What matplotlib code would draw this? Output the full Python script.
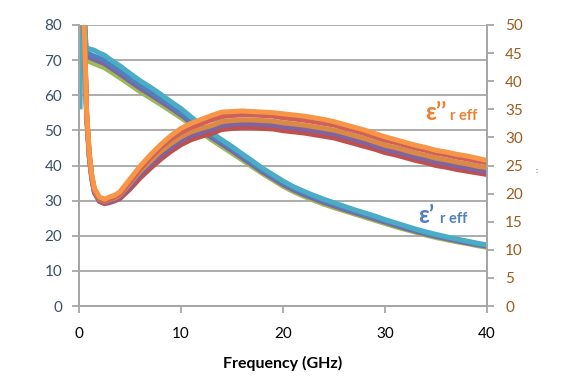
import numpy as np
import matplotlib
matplotlib.use("Agg")
import matplotlib.pyplot as plt

plt.rcParams['font.family'] = ['Lato', 'DejaVu Sans']

# eps' (left axis)
fe = [0.1, 0.3, 0.7, 1, 1.5, 2, 2.5, 3] + list(range(4, 41))
nan = np.nan
eps1_aqua = [56, 95, 73.6, 73.2, 72.8, 72.0, 71.4, 70.3,
             68.4, 66.2, 64.1, 62.3, 60.3, 58.2, 56.2, 53.8, 51.5, 49.3, 47.3, 45.4,
             43.3, 41.3, 39.2, 37.4, 35.6, 34.0, 32.7, 31.5, 30.4, 29.4, 28.4, 27.4,
             26.5, 25.6, 24.6, 23.7, 22.8, 21.9, 21.1, 20.4, 19.7, 19.1, 18.5, 17.9, 17.4]
eps1_blue = [nan, 95, 72.0, 71.8, 71.1, 70.6, 69.9, 68.9,
             67.0, 64.9, 62.9, 61.0, 59.1, 57.2, 55.1, 52.9, 50.8, 48.6, 46.7, 44.8,
             42.8, 40.7, 38.7, 36.9, 35.1, 33.6, 32.3, 31.1, 30.0, 29.0, 28.0, 27.0,
             26.1, 25.2, 24.3, 23.4, 22.5, 21.6, 20.8, 20.1, 19.5, 18.9, 18.3, 17.7, 17.2]
eps1_purple = [nan, 95, 71.0, 70.8, 70.2, 69.6, 69.0, 68.0,
               66.1, 64.0, 62.0, 60.2, 58.3, 56.4, 54.4, 52.2, 50.1, 48.0, 46.1, 44.2,
               42.2, 40.2, 38.2, 36.4, 34.6, 33.1, 31.8, 30.6, 29.5, 28.5, 27.5, 26.6,
               25.7, 24.8, 23.9, 23.0, 22.1, 21.3, 20.5, 19.8, 19.2, 18.6, 18.0, 17.5, 17.0]
eps1_green = [nan, 95, 69.8, 69.6, 69.0, 68.4, 67.8, 66.9,
              65.0, 63.0, 61.0, 59.2, 57.4, 55.5, 53.6, 51.5, 49.4, 47.3, 45.4, 43.5,
              41.6, 39.6, 37.7, 35.9, 34.1, 32.6, 31.3, 30.1, 29.0, 28.0, 27.1, 26.2,
              25.3, 24.4, 23.5, 22.6, 21.8, 21.0, 20.2, 19.5, 18.9, 18.3, 17.8, 17.2, 16.7]

# eps'' (right axis)
fd = [0.3, 0.5, 0.75, 1.0, 1.25, 1.5, 2, 2.5, 3, 3.5, 4] + list(range(5, 41))
eps2_orange = [75, 50.5, 34.5, 27.5, 23.4, 21.0, 19.4, 19.0, 19.4, 19.7, 20.3,
               22.6, 24.9, 26.9, 28.7, 30.3, 31.6, 32.5, 33.2, 33.9, 34.5, 34.6, 34.7,
               34.6, 34.5, 34.4, 34.2, 34.0, 33.8, 33.5, 33.2, 32.8, 32.3, 31.8, 31.3,
               30.7, 30.1, 29.6, 29.1, 28.6, 28.2, 27.7, 27.4, 27.0, 26.7, 26.3, 25.9]
eps2_red2 = [75, 50.2, 34.2, 27.2, 23.2, 20.8, 19.1, 18.7, 19.0, 19.4, 19.9,
             22.1, 24.4, 26.4, 28.2, 29.7, 30.9, 31.8, 32.5, 33.1, 33.7, 33.9, 34.0,
             34.0, 33.9, 33.8, 33.5, 33.3, 33.1, 32.8, 32.5, 32.2, 31.7, 31.2, 30.7,
             30.1, 29.5, 29.1, 28.6, 28.1, 27.7, 27.2, 26.9, 26.5, 26.2, 25.8, 25.5]
eps2_tan = [75, 50, 34, 27, 23, 20.6, 19.0, 18.6, 18.9, 19.2, 19.7,
            21.8, 24.0, 25.8, 27.5, 28.9, 30.1, 31.0, 31.6, 32.1, 32.8, 33.0, 33.1,
            33.1, 33.0, 32.9, 32.6, 32.4, 32.2, 31.9, 31.6, 31.3, 30.8, 30.3, 29.8,
            29.2, 28.6, 28.2, 27.7, 27.2, 26.8, 26.3, 26.0, 25.6, 25.3, 24.9, 24.6]
eps2_purple = [75, 49.8, 33.8, 26.8, 22.8, 20.4, 18.8, 18.4, 18.6, 18.9, 19.4,
               21.3, 23.4, 25.2, 26.8, 28.2, 29.4, 30.3, 30.9, 31.4, 32.1, 32.3, 32.4,
               32.4, 32.3, 32.2, 31.9, 31.7, 31.5, 31.2, 30.9, 30.6, 30.1, 29.6, 29.1,
               28.5, 27.9, 27.5, 27.0, 26.5, 26.1, 25.6, 25.3, 24.9, 24.6, 24.2, 23.9]
eps2_red = [75, 49.6, 33.6, 26.6, 22.6, 20.2, 18.6, 18.2, 18.4, 18.7, 19.1,
            20.8, 22.8, 24.5, 26.1, 27.5, 28.7, 29.6, 30.2, 30.7, 31.4, 31.6, 31.7,
            31.7, 31.6, 31.5, 31.2, 31.0, 30.8, 30.5, 30.2, 29.9, 29.4, 28.9, 28.4,
            27.9, 27.3, 26.9, 26.4, 25.9, 25.5, 25.0, 24.7, 24.3, 24.0, 23.7, 23.4]

grid_c = '#A6A6A6'
left_c = '#3B4F6B'
right_c = '#9C5B1E'

fig = plt.figure(figsize=(5.74, 3.83), dpi=100)
ax = fig.add_axes([79/574, 77/383, 408/574, 281/383])
ax2 = ax.twinx()

lw = 3.6
for y, c in [(eps1_green, '#9BBB59'), (eps1_purple, '#8064A2'),
             (eps1_blue, '#4F81BD'), (eps1_aqua, '#4BACC6')]:
    ax.plot(fe, y, color=c, lw=lw, solid_joinstyle='round', solid_capstyle='butt')
for y, c in [(eps2_red, '#C0504D'), (eps2_purple, '#8064A2'), (eps2_tan, '#DA8A43'),
             (eps2_red2, '#CF615A'), (eps2_orange, '#F79646')]:
    ax2.plot(fd, y, color=c, lw=lw, solid_joinstyle='round', solid_capstyle='butt')

ax.set_xlim(0, 40)
ax.set_ylim(0, 80)
ax2.set_ylim(0, 50)
ax.set_xticks([0, 10, 20, 30, 40])
ax.set_yticks(range(0, 81, 10))
ax2.set_yticks(range(0, 51, 5))
ax.yaxis.grid(True, color=grid_c, lw=1.3)
ax.set_axisbelow(True)

for a in (ax, ax2):
    for s in a.spines.values():
        s.set_color(grid_c)
        s.set_linewidth(1.3)
    a.spines['top'].set_visible(False)
ax.tick_params(axis='y', colors=grid_c, labelcolor=left_c, labelsize=11, length=5, width=1.3, pad=7)
ax.tick_params(axis='x', colors=grid_c, labelcolor='black', labelsize=11, length=5, width=1.3, pad=10)
ax2.tick_params(axis='y', colors=grid_c, labelcolor=right_c, labelsize=11, length=5, width=1.3, pad=8)

ax.set_xlabel('Frequency (GHz)', fontsize=11.5, fontweight='bold', labelpad=11)

fig.text(425/574, 1 - 120/383, 'ε’’', color='#F07F30', fontsize=17, fontweight='bold')
fig.text(450/574, 1 - 120/383, 'r eff', color='#F07F30', fontsize=10.5, fontweight='bold')
fig.text(418/574, 1 - 223/383, 'ε’', color='#4F81BD', fontsize=17, fontweight='bold')
fig.text(440/574, 1 - 223/383, 'r eff', color='#4F81BD', fontsize=10.5, fontweight='bold')
fig.text(535/574, 1 - 173/383, ':', color=right_c, fontsize=6)

fig.savefig('out.png', dpi=100)
